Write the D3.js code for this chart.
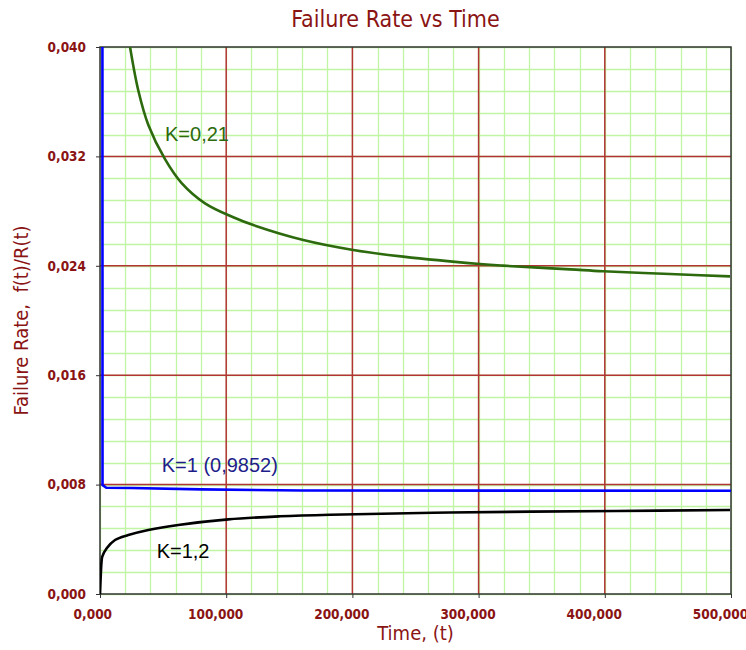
<!DOCTYPE html>
<html>
<head>
<meta charset="utf-8">
<script src="https://cdn.jsdelivr.net/npm/d3@7"></script>
<style>
  html, body { margin: 0; padding: 0; background: #fff; }
  svg { display: block; }
</style>
</head>
<body>
<svg id="chart" width="746" height="650"></svg>
<script>
// Failure rate curves, one array pair per shape parameter K
const greenT = [23800, 30400, 38300, 51500, 64700, 83200, 105600, 121500, 161100, 200700, 240300, 301100, 319300, 372400, 398600, 451700, 499200];
const greenV = [0.0400, 0.03680, 0.03430, 0.03180, 0.03005, 0.02857, 0.02755, 0.02698, 0.02589, 0.02516, 0.02467, 0.02413, 0.02401, 0.02374, 0.02360, 0.02340, 0.02323];

const blueT = [1900, 2000, 5000, 25000, 80000, 160000, 500000];
const blueV = [0.0460, 0.00797, 0.00777, 0.00775, 0.00765, 0.00757, 0.00755];

const blackT = [0, 800, 1200, 1800, 5300, 11900, 22400, 38300, 62000, 101700, 142600, 182300, 277300, 408900, 499200];
const blackV = [0, 0.00176, 0.00234, 0.00273, 0.00334, 0.00395, 0.00431, 0.00468, 0.00505, 0.00546, 0.00568, 0.00580, 0.00596, 0.00607, 0.00614];

const xTicks = [0, 100000, 200000, 300000, 400000, 500000];
const yTicks = [0, 0.008, 0.016, 0.024, 0.032, 0.040];
const xLabels = ["0,000", "100,000", "200,000", "300,000", "400,000", "500,000"];
const yLabels = ["0,000", "0,008", "0,016", "0,024", "0,032", "0,040"];

const seriesNames = ["K=0,21", "K=1 (0,9852)", "K=1,2"];

const svg = d3.select("#chart");
const margin = { left: 100, top: 47, right: 15, bottom: 56 };
const W = 746, H = 650;
const pw = W - margin.left - margin.right;
const ph = H - margin.top - margin.bottom;

const x = d3.scaleLinear().domain([0, 500000]).range([0, pw]);
const y = d3.scaleLinear().domain([0, 0.040]).range([ph, 0]);

const maroon = "#8a1414";
const g = svg.append("g").attr("transform", `translate(${margin.left},${margin.top})`);

// Title
svg.append("text")
  .attr("x", margin.left + pw / 2 - 20).attr("y", 27)
  .attr("text-anchor", "middle")
  .attr("font-family", "'DejaVu Sans Condensed', 'DejaVu Sans', sans-serif")
  .attr("font-size", 23)
  .attr("fill", maroon)
  .text("Failure Rate vs Time");

// Minor grid: five subdivisions per major step
const xMinor = d3.range(0, 26).map(i => i * 20000);
const yMinor = d3.range(0, 26).map(i => i * 0.0016);
const grid = g.append("g");
grid.selectAll("line.vmin").data(xMinor).join("line").attr("class", "vmin")
  .attr("x1", d => Math.round(x(d)) + 0.5).attr("x2", d => Math.round(x(d)) + 0.5)
  .attr("y1", 0).attr("y2", ph)
  .attr("stroke", "#bff5a3").attr("stroke-width", 1.3);
grid.selectAll("line.hmin").data(yMinor).join("line").attr("class", "hmin")
  .attr("x1", 0).attr("x2", pw)
  .attr("y1", d => Math.round(y(d)) + 0.5).attr("y2", d => Math.round(y(d)) + 0.5)
  .attr("stroke", "#bff5a3").attr("stroke-width", 1.3);

// Major grid
grid.selectAll("line.vmaj").data(xTicks.slice(1, -1)).join("line").attr("class", "vmaj")
  .attr("x1", d => x(d)).attr("x2", d => x(d)).attr("y1", 0).attr("y2", ph)
  .attr("stroke", "#b33434").attr("stroke-width", 1.5);
grid.selectAll("line.hmaj").data(yTicks.slice(1, -1)).join("line").attr("class", "hmaj")
  .attr("x1", 0).attr("x2", pw).attr("y1", d => y(d)).attr("y2", d => y(d))
  .attr("stroke", "#b33434").attr("stroke-width", 1.5);

// Frame
g.append("rect").attr("x", 0).attr("y", 0).attr("width", pw).attr("height", ph)
  .attr("fill", "none").attr("stroke", "#333").attr("stroke-width", 1.5);

// Axes with tick labels
const yAxis = d3.axisLeft(y).tickValues(yTicks).tickFormat((d, i) => yLabels[i]).tickSize(4).tickPadding(10);
const xAxis = d3.axisBottom(x).tickValues(xTicks).tickFormat((d, i) => xLabels[i]).tickSize(4).tickPadding(11);

const ya = g.append("g").call(yAxis);
const xa = g.append("g").attr("transform", `translate(0,${ph})`).call(xAxis);
[ya, xa].forEach(a => {
  a.select(".domain").remove();
  a.selectAll(".tick line").attr("stroke", "#333");
  a.selectAll(".tick text")
    .attr("font-family", "'DejaVu Sans Condensed', 'DejaVu Sans', sans-serif")
    .attr("font-weight", "bold")
    .attr("font-size", 13.5)
    .attr("fill", maroon);
});
xa.selectAll(".tick text").each(function () {
  const w = this.getComputedTextLength();
  d3.select(this).attr("dx", -0.2 * w);
});

// Axis titles
svg.append("text")
  .attr("x", margin.left + pw / 2).attr("y", 640)
  .attr("text-anchor", "middle")
  .attr("font-family", "'DejaVu Sans Condensed', 'DejaVu Sans', sans-serif")
  .attr("font-size", 20).attr("fill", maroon)
  .text("Time, (t)");
svg.append("text")
  .attr("transform", `translate(28,${margin.top + ph / 2}) rotate(-90)`)
  .attr("text-anchor", "middle")
  .attr("font-family", "'DejaVu Sans Condensed', 'DejaVu Sans', sans-serif")
  .attr("font-size", 20).attr("fill", maroon)
  .attr("xml:space", "preserve")
  .text("Failure Rate,  f(t)/R(t)");

// Curves, clipped to the plot area
svg.append("defs").append("clipPath").attr("id", "plotclip")
  .append("rect").attr("x", 0).attr("y", 0).attr("width", pw).attr("height", ph);
const curves = g.append("g").attr("clip-path", "url(#plotclip)");

const pts = (ts, vs) => ts.map((t, i) => [t, vs[i]]);
const smooth = d3.line().x(d => x(d[0])).y(d => y(d[1])).curve(d3.curveCatmullRom.alpha(0.5));
const straight = d3.line().x(d => x(d[0])).y(d => y(d[1]));

curves.append("path").attr("d", smooth(pts(greenT, greenV)))
  .attr("fill", "none").attr("stroke", "#2d6a0e").attr("stroke-width", 2.6);
curves.append("path").attr("d", straight(pts(blueT, blueV)))
  .attr("fill", "none").attr("stroke", "#0000ff").attr("stroke-width", 2.6);
curves.append("path").attr("d", smooth(pts(blackT, blackV)))
  .attr("fill", "none").attr("stroke", "#000").attr("stroke-width", 2.6);

// Curve labels
const labelFont = "'Liberation Sans', Arial, sans-serif";
const labels = [
  { t: 51500, v: 0.0331, color: "#2d6a0e" },
  { t: 48900, v: 0.00894, color: "#1e1e8a" },
  { t: 44900, v: 0.00261, color: "#000" }
];
g.selectAll("text.klabel").data(labels).join("text")
  .attr("class", "klabel")
  .attr("x", d => x(d.t)).attr("y", d => y(d.v))
  .attr("font-family", labelFont).attr("font-size", 20)
  .attr("fill", d => d.color)
  .text((d, i) => seriesNames[i]);
</script>
</body>
</html>
